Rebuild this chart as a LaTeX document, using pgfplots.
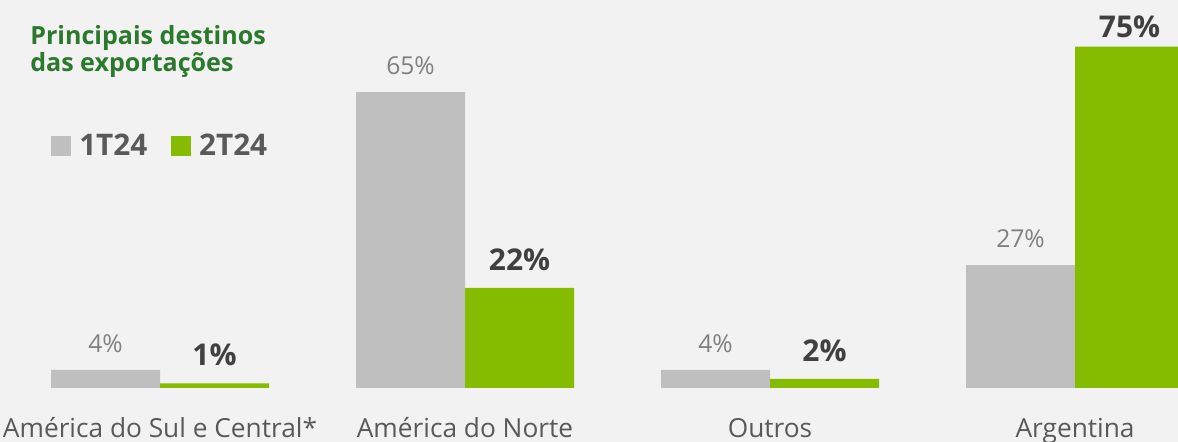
\documentclass[border=0pt]{standalone}
\usepackage{fontspec}
\setmainfont{Open Sans}
\usepackage{pgfplots}
\pgfplotsset{compat=1.18}
\definecolor{bg}{HTML}{F2F2F2}
\definecolor{barGray}{HTML}{BFBFBF}
\definecolor{barGreen}{HTML}{85BC00}
\definecolor{titleGreen}{HTML}{2B7A2B}
\definecolor{lblGray}{HTML}{808080}
\definecolor{lblDark}{HTML}{404040}
\definecolor{txtGray}{HTML}{595959}

\begin{document}
\begin{tikzpicture}
% 1 px of the reference = 0.75pt
\path[use as bounding box, fill=bg] (0pt,-40.5pt) rectangle (883.5pt,291pt);
\begin{axis}[
  at={(0pt,0pt)}, anchor=south west,
  scale only axis, width=883.5pt, height=291pt,
  xmin=-0.5246, xmax=3.3377, ymin=0, ymax=85.27,
  ybar=0pt, bar width=81.75pt,
  /pgf/number format/assume math mode=true,
  axis line style={draw=none}, tick style={draw=none},
  ytick=\empty, xtick={0,1,2,3},
  xticklabels={Am\'erica do Sul e Central*, Am\'erica do Norte, Outros, Argentina},
  xticklabel style={anchor=base, inner sep=0pt, yshift=-33pt, font=\fontsize{19.7}{22}\selectfont, text=txtGray},
  visualization depends on={y \as \yval},
  nodes near coords={\pgfmathprintnumber{\pgfplotspointmeta}\%},
  every node near coord/.append style={anchor=south, inner sep=0pt,
    yshift={\yval>70 ? 6.5 : 12.75}},
  legend style={at={(0.0399,0.6237)}, anchor=west, draw=none, fill=none,
    legend columns=2, font=\fontsize{22.3}{24}\selectfont\bfseries, text=txtGray,
    /tikz/every even column/.append style={column sep=15.75pt}},
  legend image code/.code={\fill[#1] (0pt,-7.5pt) rectangle (15pt,7.5pt); \path (19pt,0pt);},
]
\addplot[fill=barGray, draw=none,
  every node near coord/.append style={text=lblGray, font=\fontsize{18.5}{20}\selectfont}]
  coordinates {(0,4) (1,65) (2,4) (3,27)};
\addlegendentry{1T24}
\addplot[fill=barGreen, draw=none,
  every node near coord/.append style={text=lblDark, font=\fontsize{22.5}{24}\selectfont\bfseries}]
  coordinates {(0,1) (1,22) (2,2) (3,75)};
\addlegendentry{2T24}
\end{axis}
\node[anchor=base west, inner sep=0pt, text=titleGreen, font=\fontsize{18.8}{22}\selectfont\bfseries] at (22.5pt,257.25pt) {Principais destinos};
\node[anchor=base west, inner sep=0pt, text=titleGreen, font=\fontsize{18.8}{22}\selectfont\bfseries] at (22.5pt,237pt) {das exporta\c{c}\~oes};
\end{tikzpicture}
\end{document}
